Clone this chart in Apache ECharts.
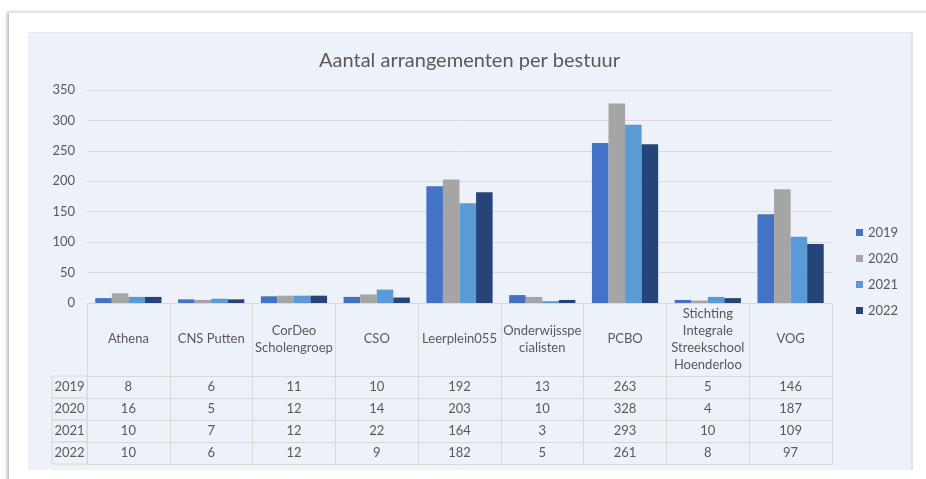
<!DOCTYPE html>
<html>
<head>
<meta charset="utf-8">
<script src="https://cdn.jsdelivr.net/npm/echarts@6/dist/echarts.min.js"></script>
<style>
  html, body { margin: 0; padding: 0; background: #fff; width: 926px; height: 479px; overflow: hidden; }
  .card {
    position: absolute; left: 9px; top: 12px; width: 940px; height: 480px;
    background: #fff; border-top: 1px solid #e6e6e6;
    box-shadow: -2px 0 3px rgba(0,0,0,0.28);
  }
  #chart {
    position: absolute; left: 28px; top: 32px; width: 883px; height: 437px;
    background: #edf1f9; border-top: 1px solid #e3e6ec; border-right: 2px solid #e2e2e2;
  }
</style>
</head>
<body>
<div class="card"></div>
<div id="chart"></div>
<script>
  // categorieen (met regelafbreking zoals in de tabel)
  const categories = [
    'Athena', 'CNS Putten', 'CorDeo\nScholengroep', 'CSO', 'Leerplein055',
    'Onderwijsspe\ncialisten', 'PCBO', 'Stichting\nIntegrale\nStreekschool\nHoenderloo', 'VOG'
  ]
  const years = ['2019', '2020', '2021', '2022']
  const v2019 = [8, 6, 11, 10, 192, 13, 263, 5, 146]
  const v2020 = [16, 5, 12, 14, 203, 10, 328, 4, 187]
  const v2021 = [10, 7, 12, 22, 164, 3, 293, 10, 109]
  const v2022 = [10, 6, 12, 9, 182, 5, 261, 8, 97]
  const yTicks = { min: 0, max: 350, interval: 50 }

  const values = [v2019, v2020, v2021, v2022]
  const colors = ['#4472c4', '#a5a5a5', '#5b9bd5', '#264478']
  const textColor = '#595959'
  const lineColor = '#d9d9d9'
  const font = 'Lato'

  const chart = echarts.init(document.getElementById('chart'))

  // hoofd-as met categorienamen, ticks vormen de kolomlijnen van de tabel
  const xAxes = [{
    type: 'category',
    data: categories,
    position: 'bottom',
    axisLine: { onZero: false, lineStyle: { color: lineColor } },
    axisTick: { show: true, length: 161, interval: 0, lineStyle: { color: lineColor } },
    axisLabel: {
      interval: 0, margin: 36, verticalAlign: 'middle', align: 'center',
      fontFamily: font, fontSize: 13, lineHeight: 17, color: textColor
    }
  }]

  // een as per jaar voor de rijen van de datatabel
  years.forEach(function (y, i) {
    xAxes.push({
      type: 'category',
      data: values[i].map(String),
      position: 'bottom',
      offset: 73 + 22 * i,
      axisLine: { onZero: false, lineStyle: { color: lineColor } },
      axisTick: { show: false },
      axisLabel: {
        interval: 0, margin: 11, verticalAlign: 'middle',
        fontFamily: font, fontSize: 13, color: textColor
      },
      name: '{c|' + y + '}',
      nameLocation: 'start',
      nameGap: 0,
      nameTextStyle: {
        align: 'right', verticalAlign: 'top',
        rich: {
          c: {
            width: 35, height: 22, lineHeight: 22, align: 'center',
            borderColor: lineColor, borderWidth: 1,
            fontFamily: font, fontSize: 13, color: textColor
          }
        }
      }
    })
  })

  // onderste lijn van de tabel
  xAxes.push({
    type: 'category',
    data: categories,
    position: 'bottom',
    offset: 161,
    axisLine: { onZero: false, lineStyle: { color: lineColor } },
    axisTick: { show: false },
    axisLabel: { show: false }
  })

  chart.setOption({
    animation: false,
    title: {
      text: 'Aantal arrangementen per bestuur',
      left: 'center',
      top: 13,
      textStyle: { fontFamily: font, fontSize: 20, fontWeight: 'normal', color: textColor }
    },
    legend: {
      data: years,
      orient: 'vertical',
      left: 823,
      top: 188,
      icon: 'rect',
      itemWidth: 7,
      itemHeight: 7,
      itemGap: 13,
      textStyle: { fontFamily: font, fontSize: 13, color: textColor }
    },
    grid: {
      left: 59,
      right: 79,
      top: 57,
      height: 213
    },
    xAxis: xAxes,
    yAxis: {
      type: 'value',
      min: yTicks.min,
      max: yTicks.max,
      interval: yTicks.interval,
      axisLine: { show: false },
      axisTick: { show: false },
      axisLabel: { margin: 12, fontFamily: font, fontSize: 13, color: textColor },
      splitLine: { lineStyle: { color: lineColor } }
    },
    series: years.map(function (y, i) {
      return {
        name: y,
        type: 'bar',
        xAxisIndex: 0,
        data: values[i],
        itemStyle: { color: colors[i] },
        barGap: '0%',
        barCategoryGap: '20%'
      }
    })
  })
</script>
</body>
</html>
